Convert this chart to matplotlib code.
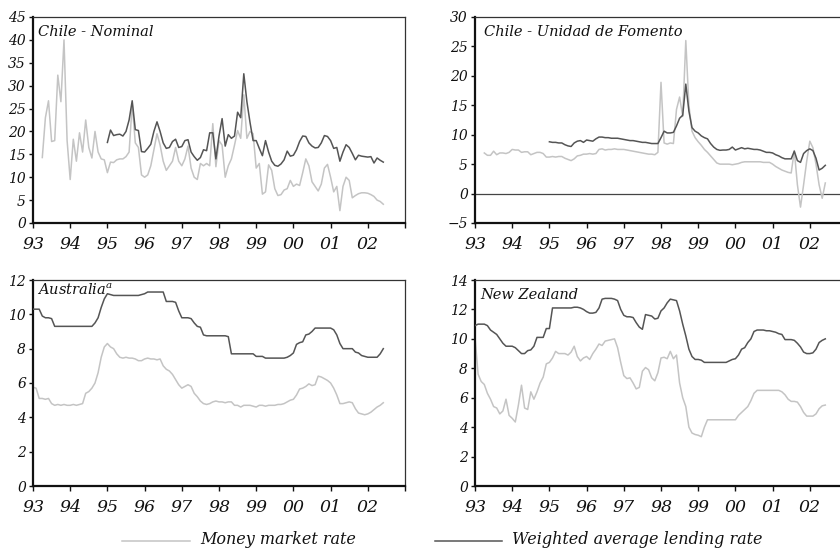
import numpy as np
import matplotlib
matplotlib.use("Agg")
import matplotlib.pyplot as plt
from matplotlib.lines import Line2D

plt.rcParams['font.family'] = ['DejaVu Serif']
plt.rcParams['font.style'] = 'italic'
plt.rcParams['mathtext.fontset'] = 'dejavuserif'

LIGHT = '#c4c4c4'
DARK = '#555555'

# x axis: years 1993-2003, labelled with two digits
YEAR_TICKS = list(range(1993, 2004))
YEAR_LABELS = ['93', '94', '95', '96', '97', '98', '99', '00', '01', '02', '']

# ---- Chile, nominal (monthly, month index counted from Jan 1993) ----
chile_nom_mm_start = 3
chile_nom_mm = [
    14.3, 23.0, 26.7, 17.8, 18.0, 32.3, 26.5, 40.0, 18.0, 9.5,
    18.3, 13.5, 19.7, 15.5, 22.5, 16.5, 14.2, 20.0, 15.5, 14.0,
    13.8, 11.0, 13.3, 13.2, 13.8, 14.0, 14.0, 14.5, 15.5, 26.0,
    17.5, 16.5, 10.5, 10.0, 10.5, 12.5, 16.0, 19.5, 17.0, 13.5,
    11.5, 12.5, 13.5, 16.5, 13.5, 12.5, 14.0, 16.8, 12.0, 10.0,
    9.5, 13.0, 12.5, 13.0, 12.5, 21.7, 12.3, 18.0, 17.0, 10.0,
    12.5, 14.0, 17.0, 20.2, 18.5, 28.0, 18.5, 20.0, 19.5, 12.0,
    13.0, 6.3, 6.8, 12.7, 11.5, 7.5, 6.0, 6.2, 7.2, 7.5,
    9.3, 8.0, 8.5, 8.2, 11.0, 14.0, 12.5, 9.0, 8.0, 7.0,
    8.5, 12.0, 12.8, 10.0, 6.8, 8.0, 2.7, 8.0, 10.0, 9.3,
    5.5, 6.0, 6.4, 6.6, 6.6, 6.5, 6.2, 5.8, 5.0, 4.7, 4.1,
]
chile_nom_lend_start = 24
chile_nom_lend = [
    17.6, 20.3, 19.1, 19.3, 19.4, 19.0, 20.0, 22.5, 26.7, 20.4,
    20.2, 15.6, 15.5, 16.3, 17.2, 20.0, 22.1, 20.0, 17.5, 16.3,
    16.5, 17.8, 18.3, 16.5, 16.7, 18.0, 18.2, 15.5, 14.5, 13.7,
    14.3, 16.0, 15.8, 19.7, 19.7, 14.0, 19.0, 22.8, 16.8, 19.3,
    18.5, 19.0, 24.2, 23.0, 32.6, 26.5, 22.0, 18.0, 18.0, 16.3,
    14.7, 18.0, 15.5, 13.5, 12.6, 12.4, 12.9, 13.8, 15.7, 14.6,
    14.8, 16.0, 17.8, 19.0, 18.9, 17.5, 16.8, 16.4, 16.5, 17.5,
    19.1, 18.9, 18.0, 16.3, 16.5, 13.5, 15.5, 17.1, 16.5, 15.2,
    13.8, 14.8, 14.6, 14.5, 14.4, 14.5, 13.1, 14.2, 13.7, 13.3,
]

# ---- Chile, Unidad de Fomento ----
chile_uf_mm_start = 3
chile_uf_mm = [
    6.9, 6.5, 6.5, 7.2, 6.6, 6.9, 6.9, 6.8, 7.0, 7.5,
    7.4, 7.4, 7.0, 7.1, 7.1, 6.6, 6.8, 7.0, 7.0, 6.8,
    6.2, 6.2, 6.3, 6.2, 6.3, 6.3, 6.0, 5.8, 5.6, 5.9,
    6.4, 6.5, 6.7, 6.7, 6.8, 6.7, 6.8, 7.5, 7.6, 7.4,
    7.5, 7.5, 7.6, 7.5, 7.5, 7.5, 7.4, 7.3, 7.2, 7.1,
    7.0, 6.9, 6.8, 6.7, 6.7, 6.6, 7.0, 18.9, 8.6, 8.4,
    8.6, 8.5, 14.3, 16.4, 13.1, 26.0, 15.0, 10.6, 9.5, 8.8,
    8.2, 7.5, 7.0, 6.4, 5.8, 5.2, 5.0, 5.0, 5.0, 5.0,
    4.9, 5.0, 5.1, 5.3, 5.4, 5.4, 5.4, 5.4, 5.4, 5.4,
    5.3, 5.3, 5.3, 5.0, 4.6, 4.3, 4.0, 3.8, 3.6, 3.5,
    7.3, 1.5, -2.3, 1.5, 5.5, 8.9, 7.8, 5.0, 1.5, -0.8, 1.8,
]
chile_uf_lend_start = 24
chile_uf_lend = [
    8.8, 8.7, 8.7, 8.6, 8.6, 8.3, 8.1, 8.0, 8.6, 8.9,
    9.0, 8.7, 9.1, 9.0, 8.9, 9.3, 9.6, 9.6, 9.5, 9.5,
    9.4, 9.4, 9.4, 9.3, 9.2, 9.1, 9.0, 9.0, 8.9, 8.8,
    8.7, 8.7, 8.6, 8.5, 8.5, 8.5, 9.5, 10.6, 10.3, 10.3,
    10.4, 11.5, 12.8, 13.3, 18.6, 14.0, 11.2, 10.6, 10.3, 9.8,
    9.5, 9.3, 8.5, 7.9, 7.5, 7.35, 7.4, 7.4, 7.5, 7.9,
    7.4, 7.6, 7.8, 7.6, 7.7, 7.6, 7.5, 7.5, 7.4, 7.2,
    7.0, 7.0, 6.9, 6.6, 6.4, 6.1, 5.9, 5.9, 5.9, 7.2,
    5.6, 5.3, 6.8, 7.3, 7.6, 7.3, 6.0, 4.0, 4.3, 4.8,
]

# ---- Australia ----
aus_mm_start = 0
aus_mm = [
    5.75, 5.7, 5.1, 5.1, 5.05, 5.1, 4.8, 4.7, 4.75, 4.7,
    4.75, 4.7, 4.7, 4.75, 4.7, 4.75, 4.8, 5.4, 5.5, 5.7,
    6.0, 6.6, 7.5, 8.1, 8.3, 8.1, 8.0, 7.7, 7.5, 7.45,
    7.5, 7.45, 7.45, 7.4, 7.3, 7.3, 7.4, 7.45, 7.4, 7.4,
    7.35, 7.4, 7.0, 6.8, 6.7, 6.5, 6.2, 5.9, 5.7, 5.8,
    5.9, 5.8, 5.4, 5.2, 4.95, 4.8, 4.75, 4.8, 4.9, 4.95,
    4.9, 4.9, 4.85, 4.9, 4.9, 4.7, 4.7, 4.6, 4.7, 4.7,
    4.7, 4.65, 4.6, 4.7, 4.7, 4.65, 4.7, 4.7, 4.7, 4.75,
    4.75, 4.8, 4.9, 5.0, 5.05, 5.3, 5.65, 5.7, 5.8, 5.95,
    5.85, 5.9, 6.4, 6.35, 6.25, 6.15, 6.0, 5.7, 5.3, 4.8,
    4.8, 4.85, 4.9, 4.85, 4.5, 4.25, 4.2, 4.15, 4.2, 4.3,
    4.45, 4.6, 4.7, 4.85,
]
aus_lend_start = 0
aus_lend = [
    10.3, 10.3, 10.3, 9.9, 9.8, 9.8, 9.75, 9.3, 9.3, 9.3,
    9.3, 9.3, 9.3, 9.3, 9.3, 9.3, 9.3, 9.3, 9.3, 9.3,
    9.5, 9.8, 10.4, 10.9, 11.2, 11.15, 11.1, 11.1, 11.1, 11.1,
    11.1, 11.1, 11.1, 11.1, 11.1, 11.15, 11.2, 11.3, 11.3, 11.3,
    11.3, 11.3, 11.3, 10.75, 10.75, 10.75, 10.7, 10.2, 9.8, 9.8,
    9.8, 9.75, 9.5, 9.3, 9.25, 8.8, 8.75, 8.75, 8.75, 8.75,
    8.75, 8.75, 8.75, 8.7, 7.7, 7.7, 7.7, 7.7, 7.7, 7.7,
    7.7, 7.7, 7.55, 7.55, 7.55, 7.45, 7.45, 7.45, 7.45, 7.45,
    7.45, 7.45, 7.5, 7.6, 7.75, 8.25, 8.35, 8.4, 8.8, 8.85,
    9.0, 9.2, 9.2, 9.2, 9.2, 9.2, 9.2, 9.1, 8.8, 8.3,
    8.0, 8.0, 8.0, 8.0, 7.8, 7.75, 7.6, 7.55, 7.5, 7.5,
    7.5, 7.5, 7.7, 8.0,
]

# ---- New Zealand ----
nz_mm_start = 0
nz_mm = [
    10.1, 7.6, 7.1, 6.9, 6.3, 5.9, 5.4, 5.3, 4.9, 5.1,
    5.9, 4.8, 4.6, 4.35, 5.5, 6.85, 5.3, 5.2, 6.4, 5.9,
    6.4, 7.0, 7.4, 8.3, 8.4, 8.7, 9.15, 9.0, 9.0, 9.0,
    8.9, 9.1, 9.5, 8.8, 8.5, 8.7, 8.8, 8.6, 9.0, 9.3,
    9.65, 9.55, 9.85, 9.9, 9.95, 10.0, 9.4, 8.4, 7.5, 7.3,
    7.35, 7.0, 6.6, 6.7, 7.8, 8.05, 7.9, 7.35, 7.15, 7.7,
    8.7, 8.75, 8.65, 9.15, 8.65, 8.9, 7.0, 6.0, 5.4, 4.0,
    3.6, 3.5, 3.45, 3.35, 4.0, 4.5, 4.5, 4.5, 4.5, 4.5,
    4.5, 4.5, 4.5, 4.5, 4.5, 4.8, 5.0, 5.2, 5.4, 5.8,
    6.3, 6.5, 6.5, 6.5, 6.5, 6.5, 6.5, 6.5, 6.5, 6.4,
    6.2, 5.9, 5.75, 5.75, 5.7, 5.4, 5.0, 4.75, 4.75, 4.75,
    4.9, 5.25, 5.45, 5.5,
]
nz_lend_start = 0
nz_lend = [
    10.9, 11.0, 11.0, 11.0, 10.9, 10.6, 10.45, 10.3, 10.0, 9.7,
    9.5, 9.5, 9.5, 9.4, 9.2, 9.0, 9.0, 9.2, 9.25, 9.5,
    10.1, 10.1, 10.1, 10.7, 10.7, 12.1, 12.1, 12.1, 12.1, 12.1,
    12.1, 12.1, 12.15, 12.15, 12.1, 12.0, 11.85, 11.75, 11.75, 11.8,
    12.1, 12.7, 12.75, 12.75, 12.75, 12.7, 12.6, 12.0, 11.6, 11.5,
    11.5, 11.45, 11.1, 10.8, 10.65, 11.65, 11.6, 11.55, 11.35, 11.4,
    11.9, 12.1, 12.45, 12.7, 12.65, 12.6, 11.9, 11.0, 10.2, 9.3,
    8.8, 8.6, 8.6, 8.55, 8.4, 8.4, 8.4, 8.4, 8.4, 8.4,
    8.4, 8.4, 8.5, 8.6, 8.65, 8.9, 9.3, 9.4, 9.75, 10.0,
    10.5, 10.6, 10.6, 10.6, 10.55, 10.55, 10.5, 10.45, 10.35, 10.3,
    9.95, 9.95, 9.95, 9.9, 9.7, 9.45, 9.1, 9.0, 9.0, 9.05,
    9.3, 9.75, 9.9, 10.0,
]

W, H = 840, 551


def rect(left, top, width, height):
    """Axes rectangle given in pixels from the top-left corner."""
    return [left / W, 1 - (top + height) / H, width / W, height / H]


def monthly_x(start, n):
    return 1993 + (start + np.arange(n)) / 12.0


panels = [
    dict(pos=rect(33, 17, 372, 206), title='Chile - Nominal', tx=0.013, ty=0.962,
         mm=(chile_nom_mm_start, chile_nom_mm), lend=(chile_nom_lend_start, chile_nom_lend),
         ylim=(0, 45), yticks=range(0, 46, 5), zero=False),
    dict(pos=rect(475, 17, 372, 206), title='Chile - Unidad de Fomento', tx=0.024, ty=0.962,
         mm=(chile_uf_mm_start, chile_uf_mm), lend=(chile_uf_lend_start, chile_uf_lend),
         ylim=(-5, 30), yticks=range(-5, 31, 5), zero=True),
    dict(pos=rect(33, 280, 372, 206), title=r'Australia$^{a}$', tx=0.010, ty=0.985,
         mm=(aus_mm_start, aus_mm), lend=(aus_lend_start, aus_lend),
         ylim=(0, 12), yticks=range(0, 13, 2), zero=False),
    dict(pos=rect(475, 280, 372, 206), title='New Zealand', tx=0.013, ty=0.962,
         mm=(nz_mm_start, nz_mm), lend=(nz_lend_start, nz_lend),
         ylim=(0, 14), yticks=range(0, 15, 2), zero=False),
]

fig = plt.figure(figsize=(W / 100, H / 100), dpi=100)

for p in panels:
    ax = fig.add_axes(p['pos'])
    s, v = p['mm']
    ax.plot(monthly_x(s, len(v)), v, color=LIGHT, lw=1.1, zorder=2)
    s, v = p['lend']
    ax.plot(monthly_x(s, len(v)), v, color=DARK, lw=1.1, zorder=3)
    if p['zero']:
        ax.axhline(0, color='#444444', lw=0.9, zorder=1)

    ax.set_xlim(1993, 2003)
    ax.set_ylim(*p['ylim'])
    ax.set_xticks(YEAR_TICKS)
    ax.set_xticklabels(YEAR_LABELS)
    ax.set_yticks(list(p['yticks']))

    for side in ('left', 'bottom'):
        ax.spines[side].set_linewidth(1.6)
        ax.spines[side].set_color('#111111')
    for side in ('top', 'right'):
        ax.spines[side].set_linewidth(0.9)
        ax.spines[side].set_color('#333333')

    ax.tick_params(axis='x', direction='out', length=3.5, width=1.0,
                   pad=6, labelsize=12.5, colors='#111111')
    ax.tick_params(axis='y', direction='out', length=3, width=1.0,
                   pad=2, labelsize=10, colors='#111111')

    ax.text(p['tx'], p['ty'], p['title'], transform=ax.transAxes,
            ha='left', va='top', fontsize=10.5, color='#111111')

# legend below the panels
fig.add_artist(Line2D([122 / W, 190 / W], [1 - 541 / H] * 2, color=LIGHT, lw=1.1))
fig.text(200 / W, 1 - 540 / H, 'Money market rate', ha='left', va='center',
         fontsize=11.5, color='#111111')
fig.add_artist(Line2D([435 / W, 502 / W], [1 - 541 / H] * 2, color=DARK, lw=1.1))
fig.text(512 / W, 1 - 540 / H, 'Weighted average lending rate', ha='left', va='center',
         fontsize=11.5, color='#111111')

fig.savefig('out.png', dpi=100, facecolor='white')
